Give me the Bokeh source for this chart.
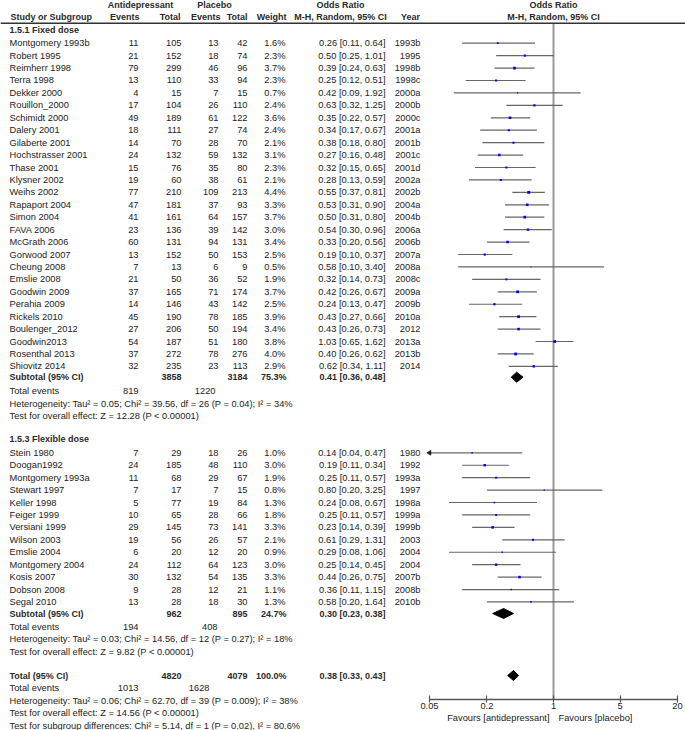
import numpy as np
from bokeh.plotting import figure
from bokeh.models import ColumnDataSource, Range1d, Span, FixedTicker, LogAxis, LogScale
from bokeh.embed import file_html
from bokeh.resources import INLINE
from bokeh.core.properties import value

# ---------------- data ----------------
fixed_names = ["Montgomery 1993b", "Robert 1995", "Reimherr 1998", "Terra 1998", "Dekker 2000",
               "Rouillon_2000", "Schimidt 2000", "Dalery 2001", "Gilaberte 2001", "Hochstrasser 2001",
               "Thase 2001", "Klysner 2002", "Weihs 2002", "Rapaport 2004", "Simon 2004", "FAVA 2006",
               "McGrath 2006", "Gorwood 2007", "Cheung 2008", "Emslie 2008", "Goodwin 2009",
               "Perahia 2009", "Rickels 2010", "Boulenger_2012", "Goodwin2013", "Rosenthal 2013",
               "Shiovitz 2014"]
fixed_ad_events = [11, 21, 79, 13, 4, 17, 49, 18, 14, 24, 15, 19, 77, 47, 41, 23, 60, 13, 7, 21, 37, 14, 45, 27, 54, 37, 32]
fixed_ad_total = [105, 152, 299, 110, 15, 104, 189, 111, 70, 132, 76, 60, 210, 181, 161, 136, 131, 152, 13, 50, 165, 146, 190, 206, 187, 272, 235]
fixed_pl_events = [13, 18, 46, 33, 7, 26, 61, 27, 28, 59, 35, 38, 109, 37, 64, 39, 94, 50, 6, 36, 71, 43, 78, 50, 51, 78, 23]
fixed_pl_total = [42, 74, 96, 94, 15, 110, 122, 74, 70, 132, 80, 61, 213, 93, 157, 142, 131, 153, 9, 52, 174, 142, 185, 194, 180, 276, 113]
fixed_weight = [1.6, 2.3, 3.7, 2.3, 0.7, 2.4, 3.6, 2.4, 2.1, 3.1, 2.3, 2.1, 4.4, 3.3, 3.7, 3.0, 3.4, 2.5, 0.5, 1.9, 3.7, 2.5, 3.9, 3.4, 3.8, 4.0, 2.9]
fixed_or = [0.26, 0.50, 0.39, 0.25, 0.42, 0.63, 0.35, 0.34, 0.38, 0.27, 0.32, 0.28, 0.55, 0.53, 0.50, 0.54, 0.33, 0.19, 0.58, 0.32, 0.42, 0.24, 0.43, 0.43, 1.03, 0.40, 0.62]
fixed_lo = [0.11, 0.25, 0.24, 0.12, 0.09, 0.32, 0.22, 0.17, 0.18, 0.16, 0.15, 0.13, 0.37, 0.31, 0.31, 0.30, 0.20, 0.10, 0.10, 0.14, 0.26, 0.13, 0.27, 0.26, 0.65, 0.26, 0.34]
fixed_hi = [0.64, 1.01, 0.63, 0.51, 1.92, 1.25, 0.57, 0.67, 0.80, 0.48, 0.65, 0.59, 0.81, 0.90, 0.80, 0.96, 0.56, 0.37, 3.40, 0.73, 0.67, 0.47, 0.66, 0.73, 1.62, 0.62, 1.11]
fixed_year = ["1993b", "1995", "1998b", "1998c", "2000a", "2000b", "2000c", "2001a", "2001b", "2001c", "2001d",
              "2002a", "2002b", "2004a", "2004b", "2006a", "2006b", "2007a", "2008a", "2008c", "2009a", "2009b",
              "2010a", "2012", "2013a", "2013b", "2014"]

flex_names = ["Stein 1980", "Doogan1992", "Montgomery 1993a", "Stewart 1997", "Keller 1998", "Feiger 1999",
              "Versiani 1999", "Wilson 2003", "Emslie 2004", "Montgomery 2004", "Kosis 2007", "Dobson 2008",
              "Segal 2010"]
flex_ad_events = [7, 24, 11, 7, 5, 10, 29, 19, 6, 24, 30, 9, 13]
flex_ad_total = [29, 185, 68, 17, 77, 65, 145, 56, 20, 112, 132, 28, 28]
flex_pl_events = [18, 48, 29, 7, 19, 28, 73, 26, 12, 64, 54, 12, 18]
flex_pl_total = [26, 110, 67, 15, 84, 66, 141, 57, 20, 123, 135, 21, 30]
flex_weight = [1.0, 3.0, 1.9, 0.8, 1.3, 1.8, 3.3, 2.1, 0.9, 3.0, 3.3, 1.1, 1.3]
flex_or = [0.14, 0.19, 0.25, 0.80, 0.24, 0.25, 0.23, 0.61, 0.29, 0.25, 0.44, 0.36, 0.58]
flex_lo = [0.04, 0.11, 0.11, 0.20, 0.08, 0.11, 0.14, 0.29, 0.08, 0.14, 0.26, 0.11, 0.20]
flex_hi = [0.47, 0.34, 0.57, 3.25, 0.67, 0.57, 0.39, 1.31, 1.06, 0.45, 0.75, 1.15, 1.64]
flex_year = ["1980", "1992", "1993a", "1997", "1998a", "1999a", "1999b", "2003", "2004", "2004", "2007b", "2008b", "2010b"]

sub_labels = ["Subtotal (95% CI)", "Subtotal (95% CI)", "Total (95% CI)"]
sub_ad_total = [3858, 962, 4820]
sub_pl_total = [3184, 895, 4079]
sub_weight = ["75.3%", "24.7%", "100.0%"]
sub_or = [0.41, 0.30, 0.38]
sub_lo = [0.36, 0.23, 0.33]
sub_hi = [0.48, 0.38, 0.43]
sub_ad_events = [819, 194, 1013]
sub_pl_events = [1220, 408, 1628]
sub_het = ["Heterogeneity: Tau\u00b2 = 0.05; Chi\u00b2 = 39.56, df = 26 (P = 0.04); I\u00b2 = 34%",
           "Heterogeneity: Tau\u00b2 = 0.03; Chi\u00b2 = 14.56, df = 12 (P = 0.27); I\u00b2 = 18%",
           "Heterogeneity: Tau\u00b2 = 0.06; Chi\u00b2 = 62.70, df = 39 (P = 0.009); I\u00b2 = 38%"]
sub_test = ["Test for overall effect: Z = 12.28 (P < 0.00001)",
            "Test for overall effect: Z = 9.82 (P < 0.00001)",
            "Test for overall effect: Z = 14.56 (P < 0.00001)"]
subgroup_test = "Test for subgroup differences: Chi\u00b2 = 5.14, df = 1 (P = 0.02), I\u00b2 = 80.6%"
group_titles = ["1.5.1 Fixed dose", "1.5.3 Flexible dose"]

axis_ticks = [0.05, 0.2, 1, 5, 20]
axis_tick_labels = ["0.05", "0.2", "1", "5", "20"]
favours_left = "Favours [antidepressant]"
favours_right = "Favours [placebo]"

# ---------------- layout ----------------
FONT = "Liberation Sans"
FS = "9.3px"
FSB = "9px"
TXT = "#222222"
BTXT = "#2a2a2a"
W, H = 685, 730
AX_L, AX_R = 429.0, 677.0            # pixel positions of 0.05 and 20
AX_Y = 699.0
ROW = 12.43

X_EV, X_TOT, X_PEV, X_PTOT, X_W, X_CI, X_YEAR = 138, 181, 218, 247, 285, 385, 420

y_fixed = [42.7 + i * ROW for i in range(len(fixed_names))]
y_flex = [452.3 + i * ROW for i in range(len(flex_names))]
y_group_title = [29.3, 438.7]
y_sub = [376.7, 613.0, 675.0]
y_sub_events = [390.7, 626.7, 687.7]
y_sub_het = [403.0, 638.7, 700.0]
y_sub_test = [415.0, 651.0, 712.3]
y_subgroup_test = 725.0

# log range for the forest panel, spanning the whole canvas width
ppd = (AX_R - AX_L) / np.log10(axis_ticks[-1] / axis_ticks[0])
or_left = 10 ** (np.log10(axis_ticks[0]) - AX_L / ppd)
or_right = 10 ** (np.log10(axis_ticks[-1]) + (W - AX_R) / ppd)

p = figure(width=W, height=H, x_range=Range1d(0, W), y_range=Range1d(H, 0),
           extra_x_ranges={"or": Range1d(or_left, or_right)}, extra_x_scales={"or": LogScale()},
           output_backend="svg", toolbar_location=None, x_axis_location=None, y_axis_location=None,
           min_border=0)
p.grid.visible = False
p.outline_line_color = None


def put(xs, ys, ts, align="left", bold=False, rng="default", x_offset=0):
    src = ColumnDataSource(dict(x=list(xs), y=list(ys), t=[str(t) for t in ts]))
    p.text(x="x", y="y", text="t", source=src, text_align=align, text_baseline="middle",
           text_font=value(FONT), text_font_size=FSB if bold else FS,
           text_font_style="bold" if bold else "normal", x_offset=x_offset,
           text_color=BTXT if bold else TXT, x_range_name=rng)


# header
put([140, 214, 340], [4.5, 4.5, 4.5], ["Antidepressant", "Placebo", "Odds Ratio"], "center", True)
put([10], [16.7], ["Study or Subgroup"], "left", True)
put([139, 180, 220, 247, 286], [16.7] * 5, ["Events", "Total", "Events", "Total", "Weight"], "right", True)
put([340, 410], [16.7, 16.7], ["M-H, Random, 95% CI", "Year"], "center", True)
put([1, 1], [4.5, 16.7], ["Odds Ratio", "M-H, Random, 95% CI"], "center", True, rng="or")
p.add_layout(Span(location=22.7, dimension="width", line_color="#333333", line_width=1.5))

put([9, 9], y_group_title, group_titles, "left", True)


def study_block(names, aev, atot, pev, ptot, w, o, lo, hi, yr, ys):
    n = len(ys)
    put([9] * n, ys, names, "left")
    put([X_EV] * n, ys, aev, "right")
    put([X_TOT] * n, ys, atot, "right")
    put([X_PEV] * n, ys, pev, "right")
    put([X_PTOT] * n, ys, ptot, "right")
    put([X_W] * n, ys, [f"{v:.1f}%" for v in w], "right")
    put([X_CI] * n, ys, [f"{a:.2f} [{b:.2f}, {c:.2f}]" for a, b, c in zip(o, lo, hi)], "right")
    put([X_YEAR] * n, ys, yr, "right")


study_block(fixed_names, fixed_ad_events, fixed_ad_total, fixed_pl_events, fixed_pl_total,
            fixed_weight, fixed_or, fixed_lo, fixed_hi, fixed_year, y_fixed)
study_block(flex_names, flex_ad_events, flex_ad_total, flex_pl_events, flex_pl_total,
            flex_weight, flex_or, flex_lo, flex_hi, flex_year, y_flex)

put([9] * 3, y_sub, sub_labels, "left", True)
put([X_TOT] * 3, y_sub, sub_ad_total, "right", True)
put([X_PTOT] * 3, y_sub, sub_pl_total, "right", True)
put([X_W + 1] * 3, y_sub, sub_weight, "right", True)
put([X_CI] * 3, y_sub, [f"{a:.2f} [{b:.2f}, {c:.2f}]" for a, b, c in zip(sub_or, sub_lo, sub_hi)], "right", True)
put([9] * 3, y_sub_events, ["Total events"] * 3, "left")
put([X_EV] * 3, y_sub_events, sub_ad_events, "right")
put([215, 217, 209], y_sub_events, sub_pl_events, "right")
put([9] * 3, y_sub_het, sub_het, "left")
put([9] * 3, y_sub_test, sub_test, "left")
put([9], [y_subgroup_test], [subgroup_test], "left")

# ---------------- forest ----------------
p.segment(x0=[1], y0=[22.7], x1=[1], y1=[AX_Y], line_color="#999999", line_width=2, x_range_name="or")

all_or = fixed_or + flex_or
all_lo = fixed_lo + flex_lo
all_hi = fixed_hi + flex_hi
all_w = fixed_weight + flex_weight
all_y = y_fixed + y_flex
lo_clip = [max(v, axis_ticks[0]) for v in all_lo]
p.segment(x0=lo_clip, y0=all_y, x1=all_hi, y1=all_y, line_color="#666666", line_width=1.2,
          x_range_name="or")
arrow_x = [axis_ticks[0] for v in all_lo if v < axis_ticks[0]]
arrow_y = [y for v, y in zip(all_lo, all_y) if v < axis_ticks[0]]
p.scatter(x=arrow_x, y=arrow_y, marker="triangle", size=4.5, angle=np.pi / 2, color="#222222",
          x_range_name="or")
p.scatter(x=all_or, y=all_y, marker="square", size=[1.4 * np.sqrt(w) for w in all_w],
          color="#0000ff", line_color=None, x_range_name="or")

dh = 5.0
p.patches(xs=[[a, b, c, b] for a, b, c in zip(sub_lo, sub_or, sub_hi)],
          ys=[[y, y - dh, y, y + dh] for y in y_sub], color="black", x_range_name="or")

ax = LogAxis(x_range_name="or", fixed_location=AX_Y, ticker=FixedTicker(ticks=axis_ticks),
             bounds=(axis_ticks[0], axis_ticks[-1]))
ax.major_label_overrides = {t: l for t, l in zip(axis_ticks, axis_tick_labels)}
ax.axis_line_color = "#555555"
ax.axis_line_width = 1.5
ax.major_tick_line_color = "#555555"
ax.major_tick_line_width = 1.2
ax.major_tick_in = 4
ax.major_tick_out = 3
ax.minor_tick_line_color = None
ax.major_label_standoff = 0
ax.major_label_text_font = FONT
ax.major_label_text_font_size = FS
ax.major_label_text_color = TXT
p.add_layout(ax, "below")

put([1], [717.7], [favours_left], "right", rng="or", x_offset=-4)
put([1], [717.7], [favours_right], "left", rng="or", x_offset=5)

open("out.html", "w").write(file_html(p, INLINE))
